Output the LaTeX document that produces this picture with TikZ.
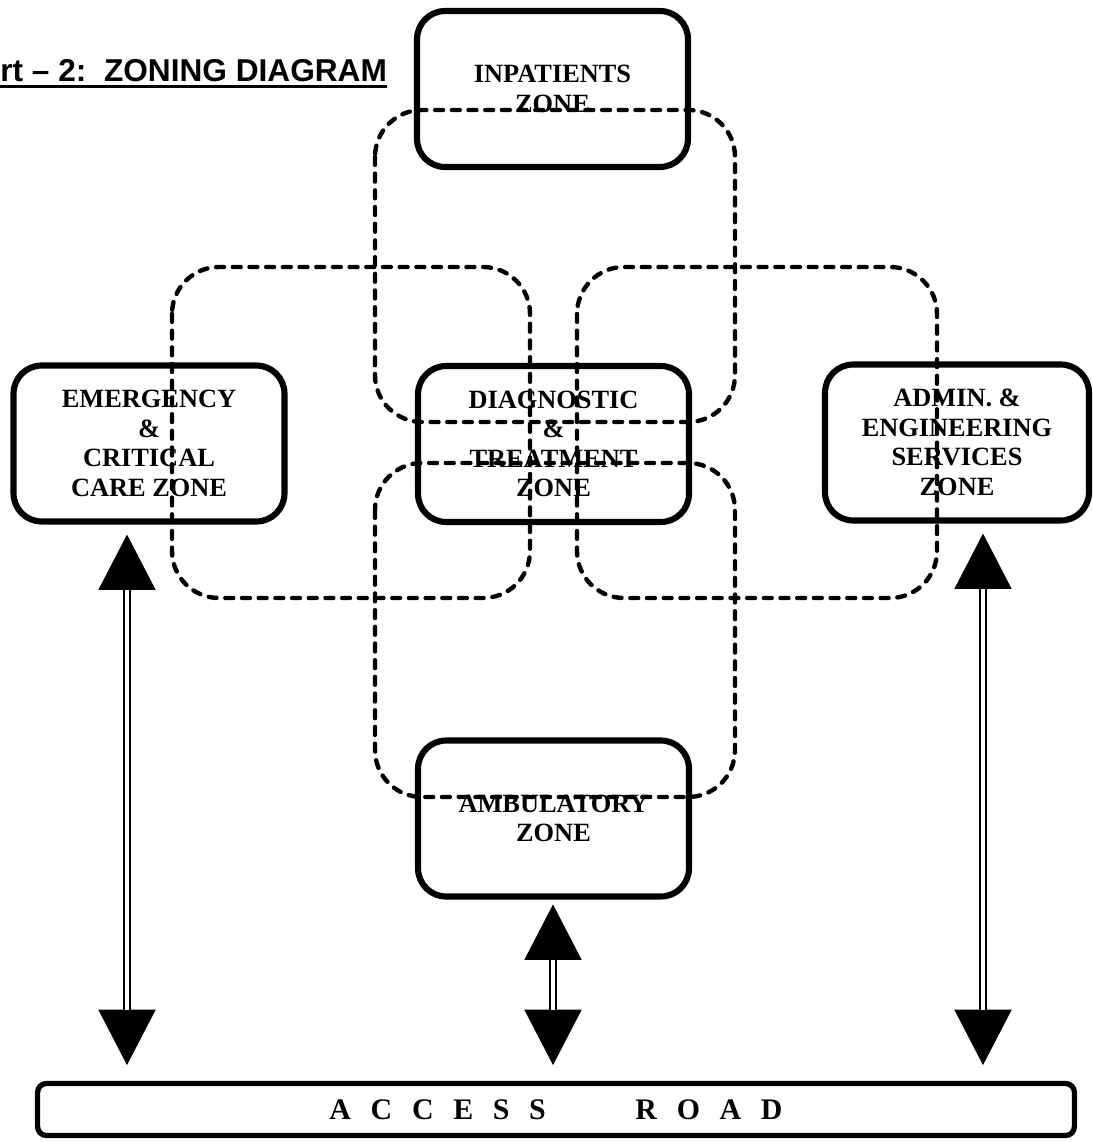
\documentclass[tikz,border=0pt]{standalone}
\usepackage{fontspec}
\setmainfont{Liberation Serif}
\newfontfamily\headfont{Liberation Sans}
\usepackage{tikz}
\usetikzlibrary{arrows.meta}

\begin{document}
\begin{tikzpicture}[x=0.02cm,y=-0.02cm,
  zone/.style={draw,line width=3.5pt,rounded corners=16pt,
               minimum width=5.42cm,minimum height=3.12cm,align=center,
               font=\fontsize{15}{16.8}\selectfont\bfseries,inner sep=0pt},
  ring/.style={line width=2.5pt,line cap=round,dash pattern=on 4.5pt off 5pt,
               rounded corners=0.94cm},
  road/.style={draw,line width=3pt,rounded corners=5pt,minimum width=20.74cm,
               minimum height=1.04cm,font=\fontsize{17}{20}\selectfont\bfseries},
  tips/.style={line width=0.6pt,
               {Triangle[length=31.5pt,width=32.5pt]}-{Triangle[length=31.5pt,width=32.5pt]}},
  shaft/.style={double,line width=1.4pt,double distance=2pt}]
\useasboundingbox (0,0) rectangle (1092,1142);
\node[font=\headfont\fontsize{18}{21}\selectfont\bfseries,anchor=base west,inner sep=0pt]
  (title) at (0,82) {rt – 2:\ \ ZONING DIAGRAM};
\draw[line width=1.5pt] ([yshift=-2.4pt]title.base west) -- ([yshift=-2.4pt]title.base east);
\node[zone] (inpat) at (552.5,89) {INPATIENTS\\ZONE};
\node[zone] (emerg) at (149,443.5) {EMERGENCY\\\&\\CRITICAL\\CARE ZONE};
\node[zone] (diag) at (553.5,444) {DIAGNOSTIC\\\&\\TREATMENT\\ZONE};
\node[zone,minimum width=5.28cm] (admin) at (957,442.5) {ADMIN. \&\\ENGINEERING\\SERVICES\\ZONE};
\node[zone] (ambul) at (553.5,818.5) {AMBULATORY\\ZONE};
\node[road] (road) at (556,1109.5) {\spaceskip=0.66em A C C E S S\hspace{3em}R O A D};
\draw[ring] (375,110) rectangle (735,422);
\draw[ring] (172,267) rectangle (530,598);
\draw[ring] (577,267) rectangle (937,598);
\draw[ring] (375,463) rectangle (735,797);
\foreach \z/\ax/\gap in {emerg/127/5.7pt,ambul/553/2.8pt,admin/983/5.7pt}{
  \draw[tips,shorten <=\gap,shorten >=9pt] (\ax,0 |- \z.south) -- (\ax,0 |- road.north);
  \draw[shaft,shorten <=\gap+31.5pt,shorten >=40.5pt] (\ax,0 |- \z.south) -- (\ax,0 |- road.north);
}
\end{tikzpicture}
\end{document}
